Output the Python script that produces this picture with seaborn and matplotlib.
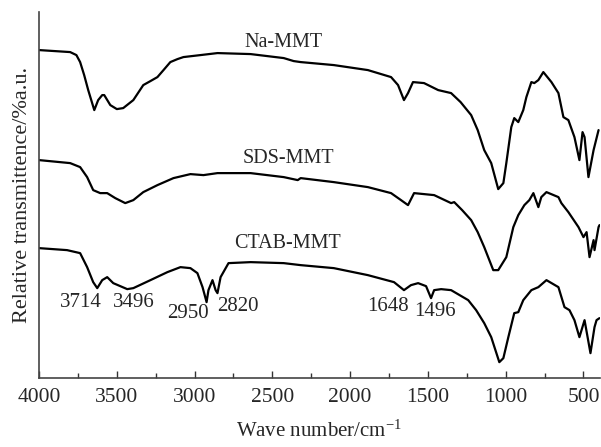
import numpy as np
import pandas as pd
import seaborn as sns
import matplotlib.pyplot as plt
from matplotlib.ticker import MultipleLocator

# FTIR spectra, values (relative units)
na_wn = [4000, 3800, 3760, 3736, 3710, 3684, 3645, 3620, 3594, 3581, 3542, 3500, 3459, 3394,
         3330, 3284, 3239, 3200, 3156, 3110, 3072, 2962, 2853, 2640, 2427, 2363, 2318, 2105,
         1886, 1737, 1692, 1654, 1628, 1596, 1525, 1434, 1351, 1290, 1222, 1180, 1138, 1093,
         1048, 1015, 996, 964, 945, 919, 887, 867, 835, 816, 790, 758, 706, 661, 629, 597,
         558, 526, 506, 493, 468, 435, 403]
na_t = [328, 326, 323, 316, 303, 288, 268, 278, 283, 283, 273, 269, 270, 278,
        293, 297, 301, 308, 316, 319, 321, 323, 325, 324, 320, 317, 316, 313,
        308, 301, 293, 278, 285, 296, 295, 288, 285, 276, 263, 248, 228, 215,
        189, 195, 215, 251, 260, 256, 268, 281, 296, 295, 298, 306, 296, 285, 261, 258,
        241, 218, 246, 241, 201, 228, 248]

sds_wn = [4000, 3800, 3736, 3691, 3652, 3607, 3562, 3510, 3446, 3394, 3330, 3239, 3136,
          3027, 2943, 2853, 2640, 2427, 2337, 2318, 2105, 1886, 1737, 1673, 1628, 1589,
          1460, 1351, 1331, 1280, 1222, 1180, 1138, 1080, 1048, 996, 951, 919, 880, 848,
          822, 790, 771, 738, 661, 642, 597, 532, 500, 480, 461, 435, 429, 403, 397]
sds_t = [218, 215, 211, 201, 188, 185, 185, 180, 175, 178, 186, 193, 200,
         204, 203, 205, 205, 201, 198, 200, 196, 191, 185, 178, 173, 185,
         183, 175, 176, 168, 158, 146, 131, 108, 108, 121, 151, 163, 173, 178,
         185, 171, 181, 186, 181, 175, 166, 151, 141, 146, 121, 138, 128, 151, 153]

ctab_wn = [4000, 3820, 3736, 3691, 3652, 3626, 3594, 3562, 3523, 3433, 3394, 3284, 3175,
           3091, 3027, 2982, 2949, 2923, 2911, 2885, 2865, 2853, 2833, 2782, 2640, 2427,
           2318, 2105, 1886, 1718, 1654, 1609, 1563, 1512, 1480, 1460, 1415, 1351, 1241,
           1190, 1138, 1093, 1041, 1015, 983, 945, 919, 887, 835, 790, 738, 661, 622, 590,
           558, 526, 493, 455, 429, 416, 397]
ctab_t = [130, 128, 125, 111, 96, 90, 98, 101, 95, 89, 90, 98, 106,
          111, 110, 105, 91, 76, 88, 98, 88, 85, 101, 115, 116, 115,
          113, 110, 103, 96, 88, 93, 95, 92, 80, 88, 89, 88, 78,
          68, 55, 41, 16, 20, 41, 65, 66, 78, 88, 91, 98, 91, 71, 68,
          58, 41, 58, 25, 51, 58, 60]

names = ['Na-MMT', 'SDS-MMT', 'CTAB-MMT']
name_pos = [(2427, 336), (2395, 220), (2401, 135)]
peak_labels = ['3714', '3496', '2950', '2820', '1648', '1496']
peak_pos = [(3729, 76), (3388, 76), (3040, 65), (2724, 72), (1757, 72), (1454, 67)]

df = pd.concat([
    pd.DataFrame({'wn': na_wn, 't': na_t, 'sample': 'Na-MMT'}),
    pd.DataFrame({'wn': sds_wn, 't': sds_t, 'sample': 'SDS-MMT'}),
    pd.DataFrame({'wn': ctab_wn, 't': ctab_t, 'sample': 'CTAB-MMT'}),
])

sns.set_style('ticks')
plt.rcParams['font.family'] = ['Liberation Serif', 'DejaVu Serif']
plt.rcParams['mathtext.default'] = 'regular'

fig = plt.figure(figsize=(6.01, 4.47), dpi=100)
ax = fig.add_axes([0.065, 0.154, 0.933, 0.819])

for s in names:
    d = df[df['sample'] == s]
    sns.lineplot(data=d, x='wn', y='t', ax=ax, color='black', lw=1.6, sort=False,
                 estimator=None)

for s, (x, y) in zip(names, name_pos):
    ax.text(x, y, s, ha='center', va='center', fontsize=14.5)
for s, (x, y) in zip(peak_labels, peak_pos):
    ax.text(x, y, s, ha='center', va='center', fontsize=15)

ax.set_xlim(4000, 395)
ax.set_ylim(0, 366)
ax.xaxis.set_major_locator(MultipleLocator(500))
ax.xaxis.set_minor_locator(MultipleLocator(250))
ax.set_yticks([])
ax.tick_params(axis='x', which='major', direction='in', length=5, width=1,
               labelsize=15.5, pad=7, color='#333')
ax.tick_params(axis='x', which='minor', direction='in', length=3.5, width=1, color='#333')
for side in ['top', 'right']:
    ax.spines[side].set_visible(False)
for side in ['left', 'bottom']:
    ax.spines[side].set_color('#444')
    ax.spines[side].set_linewidth(1.2)

ax.set_xlabel('Wave number/cm$^{-1}$', fontsize=15, labelpad=10)
ax.set_ylabel('Relative transmittence/%a.u.', fontsize=16, labelpad=5)

fig.savefig('out.png', dpi=100)
